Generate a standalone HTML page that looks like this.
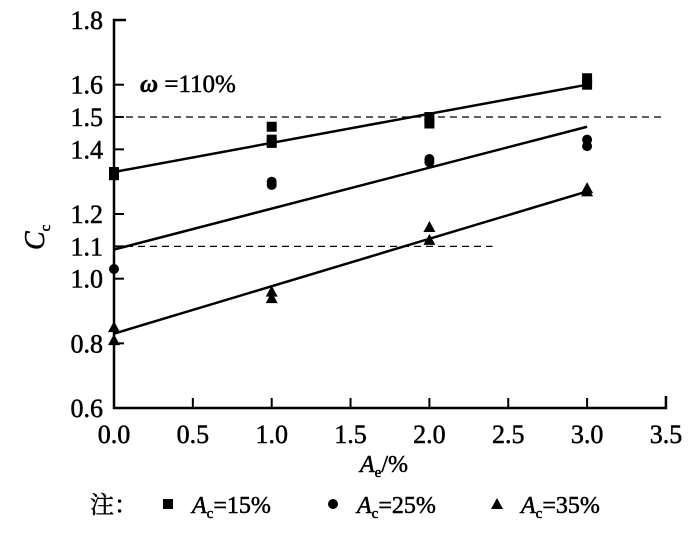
<!DOCTYPE html>
<html><head><meta charset="utf-8"><style>
body{margin:0;background:#fff;}
svg{display:block;font-family:"Liberation Serif","Noto Serif CJK SC",serif;}
svg text{stroke:#000;stroke-width:0.5;}
</style></head><body>
<svg id="chart" width="700" height="535">
<g id="axes"></g>
<g id="marks"></g>
</svg>
<script>
const xTicks=[0,0.5,1,1.5,2,2.5,3,3.5];
const xTickLabels=["0.0","0.5","1.0","1.5","2.0","2.5","3.0","3.5"];
const yTicks=[0.6,0.8,1.0,1.1,1.2,1.4,1.5,1.6,1.8];
const yTickLabels=["0.6","0.8","1.0","1.1","1.2","1.4","1.5","1.6","1.8"];
const sqX=[0,0,1,1,1,2,2,3,3];
const sqY=[1.32,1.33,1.47,1.43,1.42,1.48,1.50,1.60,1.62];
const ciX=[0,1,1,2,2,3,3];
const ciY=[1.03,1.30,1.29,1.37,1.36,1.43,1.41];
const trX=[0,0,1,1,2,2,3,3];
const trY=[0.85,0.81,0.96,0.94,1.16,1.12,1.28,1.27];
const fitSq=[1.33,1.60];
const fitCi=[1.09,1.47];
const fitTr=[0.83,1.27];
const refLines=[1.5,1.1];
const refEnds=[3.48,2.4];

const NS="http://www.w3.org/2000/svg";
const X=v=>114+v*157.7;
const Y=v=>408-(v-0.6)*323.3;
function mk(t,a,p,txt){const e=document.createElementNS(NS,t);for(const k in a)e.setAttribute(k,a[k]);if(txt!==undefined)e.textContent=txt;p.appendChild(e);return e;}
const axes=document.getElementById('axes'),marks=document.getElementById('marks');
let e=mk('path',{d:`M126,${Y(1.8)}H114V408H${X(3.5)}V396`,fill:'none',stroke:'#000','stroke-width':2.5},axes);

xTicks.forEach((v,i)=>{
 const t=mk('line',{x1:X(v),x2:X(v),y1:408,y2:398,stroke:'#000','stroke-width':2},axes);
 
 const l=mk('text',{x:X(v),y:443,'text-anchor':'middle','font-size':26},axes,xTickLabels[i]);
 
});
yTicks.forEach((v,i)=>{
 const t=mk('line',{x1:114,x2:124,y1:Y(v),y2:Y(v),stroke:'#000','stroke-width':2},axes);
 
 const l=mk('text',{x:103,y:Y(v)+9,'text-anchor':'end','font-size':26},axes,yTickLabels[i]);
 
});
refLines.forEach((v,i)=>{
 const l=mk('line',{x1:114,x2:X(refEnds[i]),y1:Y(v),y2:Y(v),stroke:'#000','stroke-width':1.2,'stroke-dasharray':'7,5'},axes);
 
});
e=mk('text',{x:0,y:0,'font-size':28,'font-style':'italic',transform:'translate(44,250) rotate(-90)'},axes);

e.innerHTML='C<tspan font-size="15" dy="6" font-style="normal">c</tspan>';
e=mk('text',{x:360,y:472,'font-size':24},axes);

e.innerHTML='<tspan font-style="italic">A</tspan><tspan font-size="15" dy="5">e</tspan><tspan dy="-5">/%</tspan>';
e=mk('text',{x:140,y:92,'font-size':25},axes);

e.innerHTML='<tspan font-style="italic" font-weight="bold">ω</tspan> =110%';
[[fitSq,'fit-line-15'],[fitCi,'fit-line-25'],[fitTr,'fit-line-35']].forEach(([f,n])=>{
 const l=mk('line',{x1:X(0),y1:Y(f[0]),x2:X(3),y2:Y(f[1]),stroke:'#000','stroke-width':2.5},marks);
 
});
function sq(cx,cy,p){return mk('rect',{x:cx-5,y:cy-5,width:10,height:10,fill:'#000'},p);}
function ci(cx,cy,p){return mk('circle',{cx,cy,r:5,fill:'#000'},p);}
function tr(cx,cy,p){return mk('path',{d:`M${cx},${cy-6}L${cx+6},${cy+5}L${cx-6},${cy+5}Z`,fill:'#000'},p);}
sqX.forEach((v,i)=>{const m=sq(X(v),Y(sqY[i]),marks);});
ciX.forEach((v,i)=>{const m=ci(X(v),Y(ciY[i]),marks);});
trX.forEach((v,i)=>{const m=tr(X(v),Y(trY[i]),marks);});
e=mk('text',{x:90,y:513,'font-size':24},axes,'注：');

const leg=[[sq,168,'15%'],[ci,333,'25%'],[tr,497,'35%']];
leg.forEach(([f,x,t])=>{
 const g=mk('g',{},axes);
 
 f(x,504,g);
 const tx=mk('text',{x:x+24,y:513,'font-size':24},g);
 tx.innerHTML='<tspan font-style="italic">A</tspan><tspan font-size="15" dy="5">c</tspan><tspan dy="-5">='+t+'</tspan>';
});
</script>
</body></html>
